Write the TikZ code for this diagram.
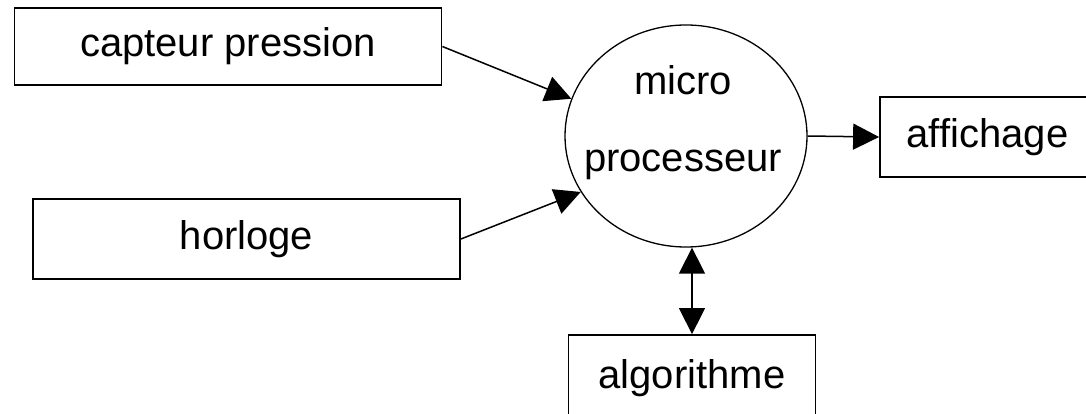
\documentclass[tikz,border=0pt]{standalone}
\usepackage{fontspec}
\setmainfont{Liberation Sans}
\usetikzlibrary{shapes.geometric,arrows.meta}

\tikzset{pointe/.tip={Triangle[length=26pt,width=26pt]}}

\begin{document}
\begin{tikzpicture}[x=1pt,y=-1pt,
		bloc/.style={draw, line width=1.8pt, inner sep=0pt, font=\fontsize{40}{48}\selectfont, text height=29pt, text depth=8pt},
		fleche/.style={line width=1.5pt, -pointe}]
		\clip (0,0) rectangle (1086,414);

		\node[bloc, minimum width=427pt, minimum height=77pt] (capteur) at (228,46.5) {capteur pression};
		\node[bloc, minimum width=427pt, minimum height=80pt] (horloge) at (246.5,239) {horloge};

		\node[draw, ellipse, line width=1.3pt, minimum width=242pt, minimum height=222pt, inner sep=0pt] (mp) at (686,136) {};
		\node[align=center, font=\fontsize{40}{77}\selectfont] (mptexte) at (683,123) {micro\\processeur};

		\node[bloc, minimum width=215pt, minimum height=80pt] (affichage) at (987.5,137) {affichage};
		\node[bloc, minimum width=247pt, minimum height=85pt] (algo) at (692,377.5) {algorithme};

		\draw[fleche] (capteur.east) -- (mp.162);
		\draw[fleche] (horloge.east) -- (mp.208);
		\draw[fleche] (mp.east) -- (affichage.west);
		\draw[fleche, pointe-pointe] (mp.south -| algo.north) -- (algo.north);
	\end{tikzpicture}
\end{document}
